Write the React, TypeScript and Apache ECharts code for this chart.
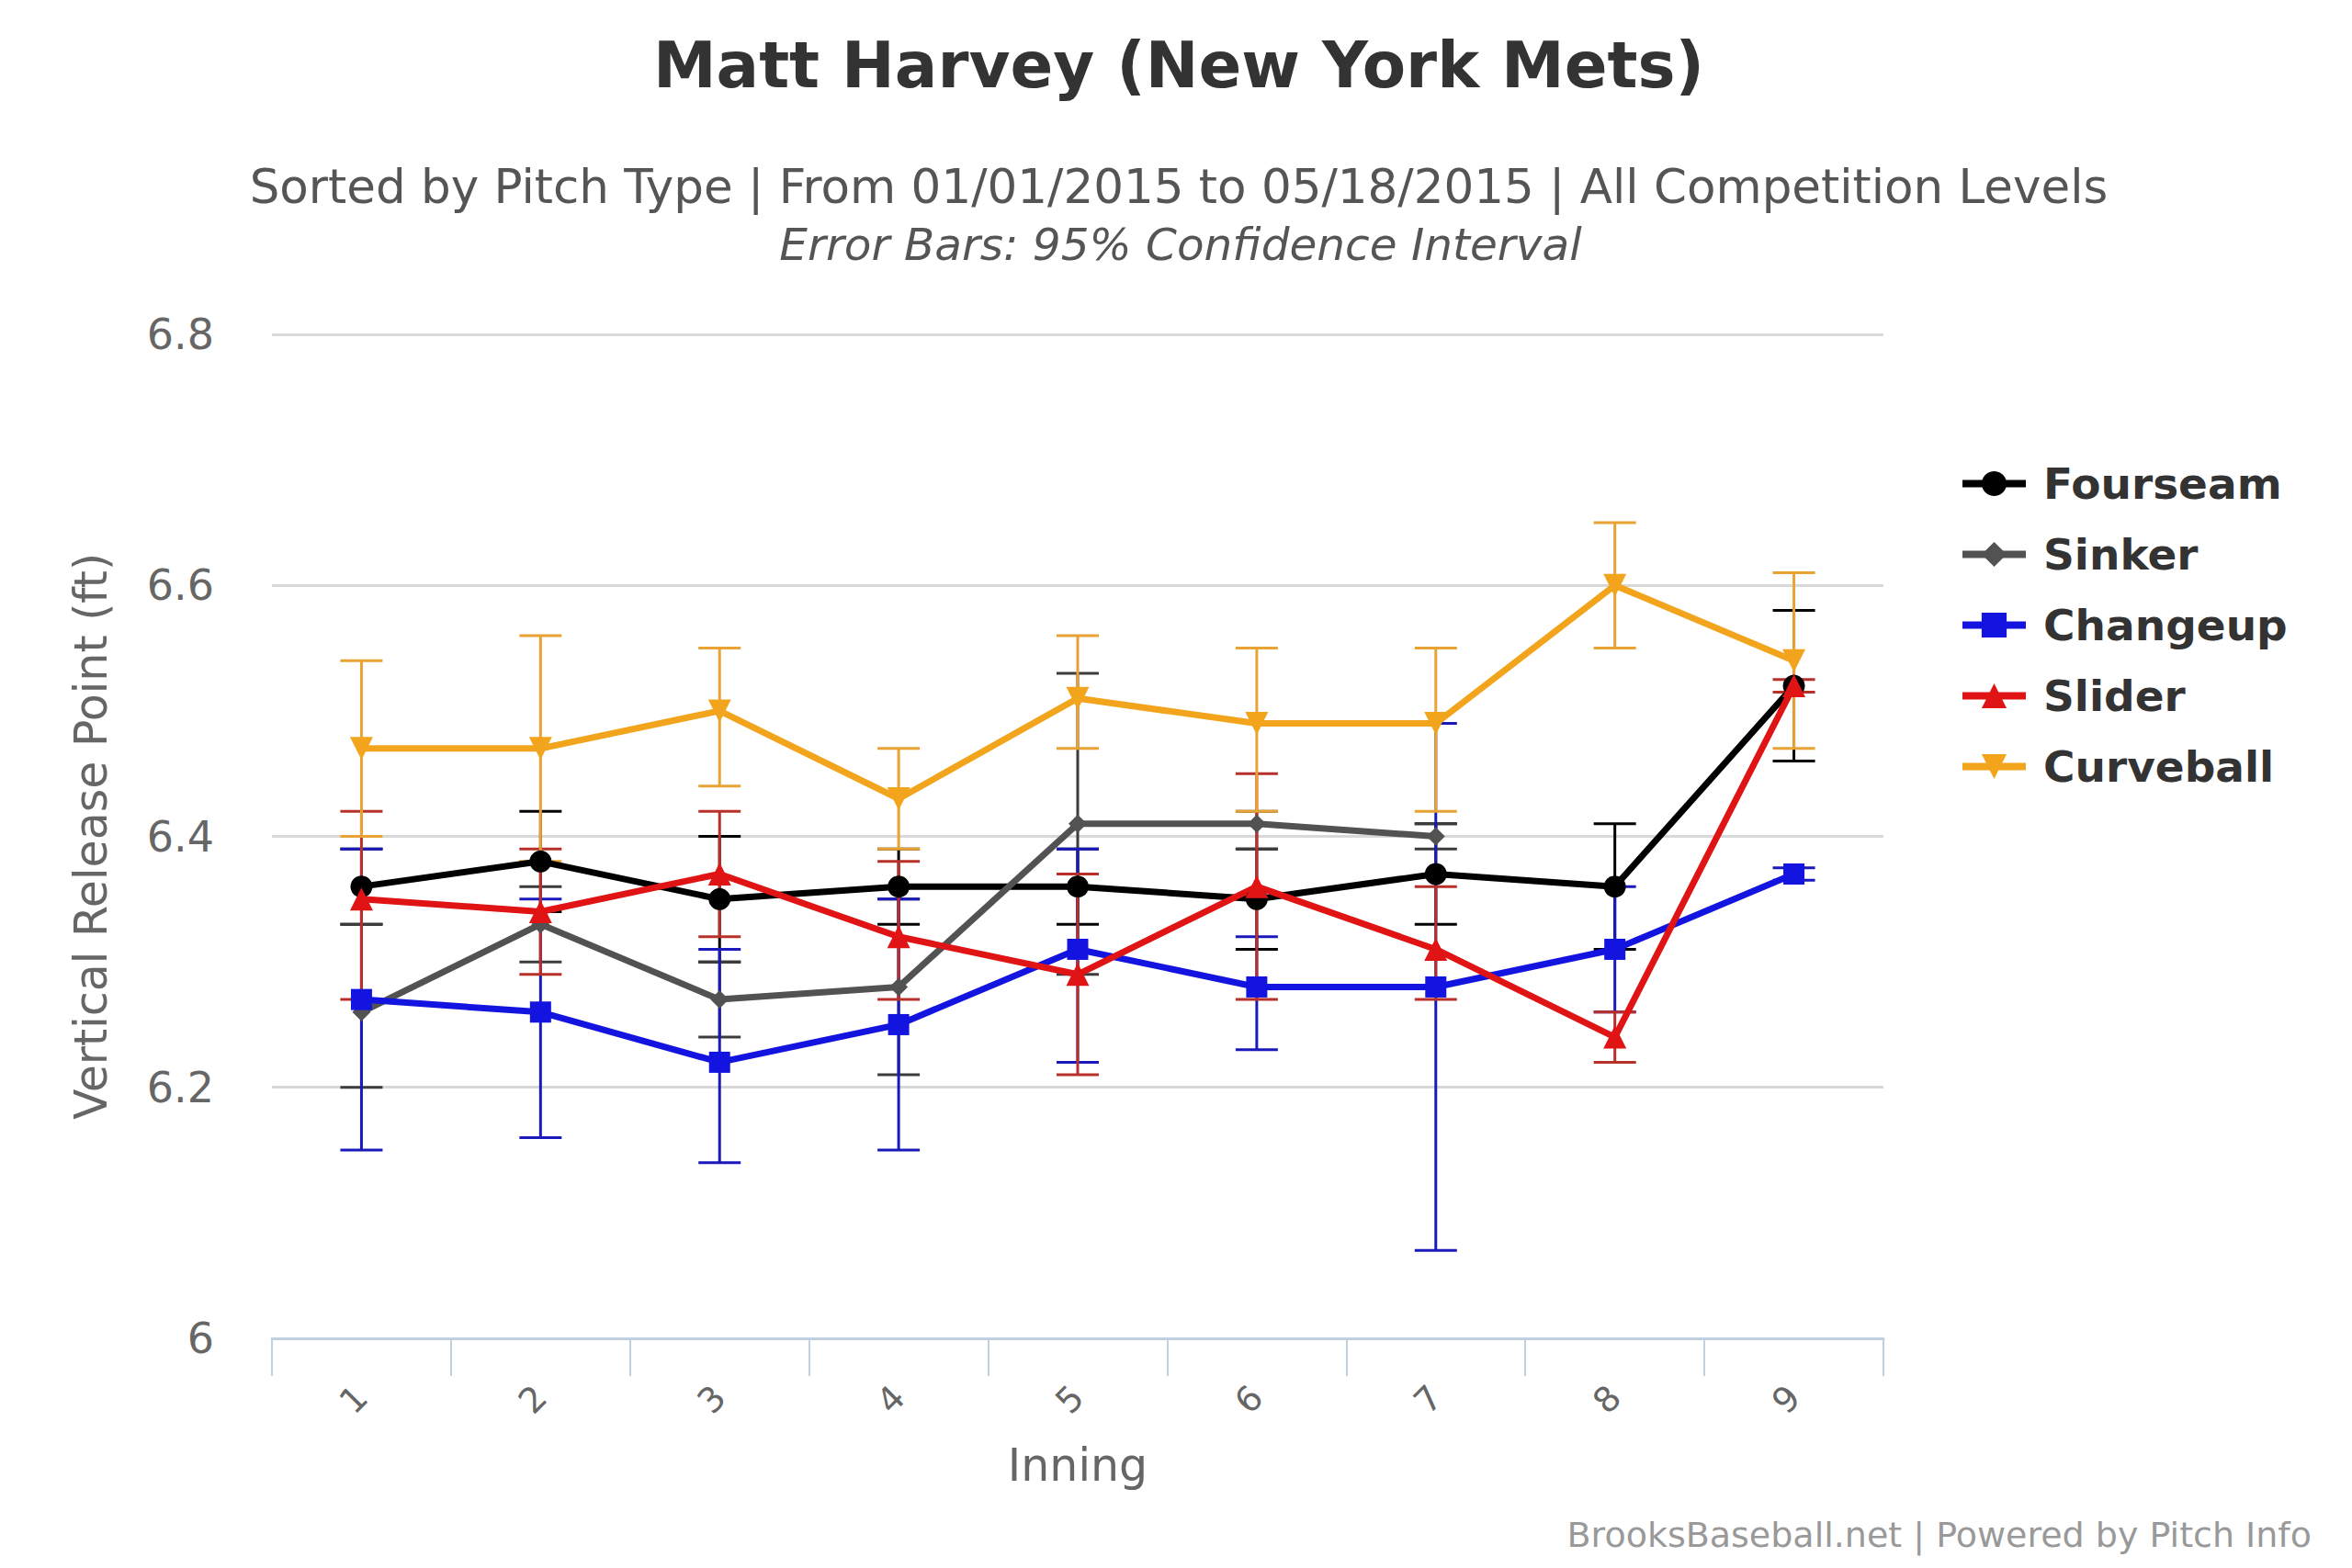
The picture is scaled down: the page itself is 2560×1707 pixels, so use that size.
import { useEffect, useRef } from 'react';
import * as echarts from 'echarts';

const innings = ['1', '2', '3', '4', '5', '6', '7', '8', '9'];

// pitch values (ft) with 95% CI bounds
const fourseam = [6.36, 6.38, 6.35, 6.36, 6.36, 6.35, 6.37, 6.36, 6.52];
const fourseamLow = [6.33, 6.34, 6.3, 6.33, 6.33, 6.31, 6.33, 6.31, 6.46];
const fourseamHigh = [6.39, 6.42, 6.4, 6.39, 6.39, 6.39, 6.41, 6.41, 6.58];

const sinker = [6.26, 6.33, 6.27, 6.28, 6.41, 6.41, 6.4, null, null];
const sinkerLow = [6.2, 6.3, 6.24, 6.21, 6.29, 6.39, 6.39, null, null];
const sinkerHigh = [6.33, 6.36, 6.3, 6.35, 6.53, 6.42, 6.41, null, null];

const changeup = [6.27, 6.26, 6.22, 6.25, 6.31, 6.28, 6.28, 6.31, 6.37];
const changeupLow = [6.15, 6.16, 6.14, 6.15, 6.22, 6.23, 6.07, 6.26, 6.365];
const changeupHigh = [6.39, 6.35, 6.31, 6.35, 6.39, 6.32, 6.49, 6.36, 6.375];

const slider = [6.35, 6.34, 6.37, 6.32, 6.29, 6.36, 6.31, 6.24, 6.52];
const sliderLow = [6.27, 6.29, 6.32, 6.27, 6.21, 6.27, 6.27, 6.22, 6.515];
const sliderHigh = [6.42, 6.39, 6.42, 6.38, 6.37, 6.45, 6.36, 6.26, 6.525];

const curveball = [6.47, 6.47, 6.5, 6.43, 6.51, 6.49, 6.49, 6.6, 6.54];
const curveballLow = [6.4, 6.38, 6.44, 6.39, 6.47, 6.42, 6.42, 6.55, 6.47];
const curveballHigh = [6.54, 6.56, 6.55, 6.47, 6.56, 6.55, 6.55, 6.65, 6.61];

const FONT = '"DejaVu Sans", sans-serif';

const pitches = [
  { name: 'Fourseam', values: fourseam, low: fourseamLow, high: fourseamHigh, color: '#000000', barColor: '#000000', symbol: 'circle', size: 24, rotate: 0 },
  { name: 'Sinker', values: sinker, low: sinkerLow, high: sinkerHigh, color: '#525252', barColor: '#3c3c3c', symbol: 'diamond', size: 20, rotate: 0 },
  { name: 'Changeup', values: changeup, low: changeupLow, high: changeupHigh, color: '#1414E0', barColor: '#1A1ABC', symbol: 'rect', size: 23, rotate: 0 },
  { name: 'Slider', values: slider, low: sliderLow, high: sliderHigh, color: '#E01414', barColor: '#B8302A', symbol: 'triangle', size: 25, rotate: 0 },
  { name: 'Curveball', values: curveball, low: curveballLow, high: curveballHigh, color: '#F2A51C', barColor: '#E9A234', symbol: 'triangle', size: 25, rotate: 180 },
];

const errorSeries = (p: (typeof pitches)[number]) => ({
  type: 'custom',
  name: p.name + ' CI',
  z: 2,
  encode: { x: 0, y: [1, 2] },
  data: p.low
    .map((lo, i) => (lo == null ? null : [i, lo, p.high[i]]))
    .filter((d) => d !== null),
  renderItem: (params: any, api: any) => {
    const lo = api.coord([api.value(0), api.value(1)]);
    const hi = api.coord([api.value(0), api.value(2)]);
    const w = 23;
    const style = { stroke: p.barColor, lineWidth: 3 };
    return {
      type: 'group',
      children: [
        { type: 'line', shape: { x1: lo[0], y1: lo[1], x2: hi[0], y2: hi[1] }, style },
        { type: 'line', shape: { x1: lo[0] - w, y1: lo[1], x2: lo[0] + w, y2: lo[1] }, style },
        { type: 'line', shape: { x1: hi[0] - w, y1: hi[1], x2: hi[0] + w, y2: hi[1] }, style },
      ],
    };
  },
});

const lineSeries = (p: (typeof pitches)[number]) => ({
  type: 'line',
  name: p.name,
  z: 3,
  data: p.values,
  symbol: p.symbol,
  symbolSize: p.size,
  symbolRotate: p.rotate,
  showAllSymbol: true,
  connectNulls: false,
  lineStyle: { color: p.color, width: 7 },
  itemStyle: { color: p.color },
});

export default function App() {
  const chartRef = useRef<HTMLDivElement>(null);

  useEffect(() => {
    if (!chartRef.current) return;
    const chart = echarts.init(chartRef.current, null, { renderer: 'svg' });

    chart.setOption({
      animation: false,
      backgroundColor: '#ffffff',
      title: [
        {
          text: 'Matt Harvey (New York Mets)',
          left: 1278,
          top: 31,
          textAlign: 'center',
          textStyle: { fontFamily: FONT, fontSize: 69, fontWeight: 'bold', color: '#333333' },
        },
        {
          text: 'Sorted by Pitch Type | From 01/01/2015 to 05/18/2015 | All Competition Levels',
          left: 1278,
          top: 172,
          textAlign: 'center',
          textStyle: { fontFamily: FONT, fontSize: 51.5, fontWeight: 'normal', color: '#555555' },
        },
        {
          text: 'Error Bars: 95% Confidence Interval',
          left: 1280,
          top: 237,
          textAlign: 'center',
          textStyle: { fontFamily: FONT, fontSize: 48.5, fontWeight: 'normal', fontStyle: 'italic', color: '#555555' },
        },
      ],
      legend: {
        orient: 'vertical',
        left: 2127,
        top: 498,
        itemWidth: 69,
        itemHeight: 34,
        itemGap: 30,
        selectedMode: false,
        data: pitches.map((p) => p.name),
        lineStyle: { width: 8 },
        textStyle: {
          fontFamily: FONT,
          fontSize: 47,
          fontWeight: 'bold',
          color: '#333333',
          lineHeight: 46,
          padding: [0, 0, 0, 14],
        },
      },
      grid: { left: 296, right: 510, top: 364, bottom: 250, containLabel: false },
      xAxis: {
        type: 'category',
        data: innings,
        name: 'Inning',
        nameLocation: 'middle',
        nameGap: 114,
        nameTextStyle: { fontFamily: FONT, fontSize: 49, color: '#666666' },
        axisLine: { lineStyle: { color: '#C0D0E0', width: 3 } },
        axisTick: { show: true, interval: 0, alignWithLabel: false, length: 41, lineStyle: { color: '#C0D0E0', width: 2 } },
        axisLabel: { rotate: 45, margin: 58, fontFamily: FONT, fontSize: 38, color: '#666666' },
      },
      yAxis: {
        type: 'value',
        min: 6,
        max: 6.8,
        interval: 0.2,
        name: 'Vertical Release Point (ft)',
        nameLocation: 'middle',
        nameGap: 172,
        nameTextStyle: { fontFamily: FONT, fontSize: 49, color: '#666666' },
        axisLine: { show: false },
        axisTick: { show: false },
        axisLabel: { margin: 63, fontFamily: FONT, fontSize: 46, color: '#666666' },
        splitLine: { lineStyle: { color: '#D8D8D8', width: 3 } },
      },
      graphic: [
        {
          type: 'text',
          right: 44,
          top: 1652,
          style: {
            text: 'BrooksBaseball.net | Powered by Pitch Info',
            fontFamily: FONT,
            fontSize: 38,
            fill: '#999999',
          },
        },
      ],
      series: [...pitches.map(errorSeries), ...pitches.map(lineSeries)],
    });

    return () => {
      chart.dispose();
    };
  }, []);

  return (
    <div
      ref={chartRef}
      style={{ position: 'absolute', left: 0, top: 0, width: 2560, height: 1707, background: '#fff' }}
    />
  );
}
